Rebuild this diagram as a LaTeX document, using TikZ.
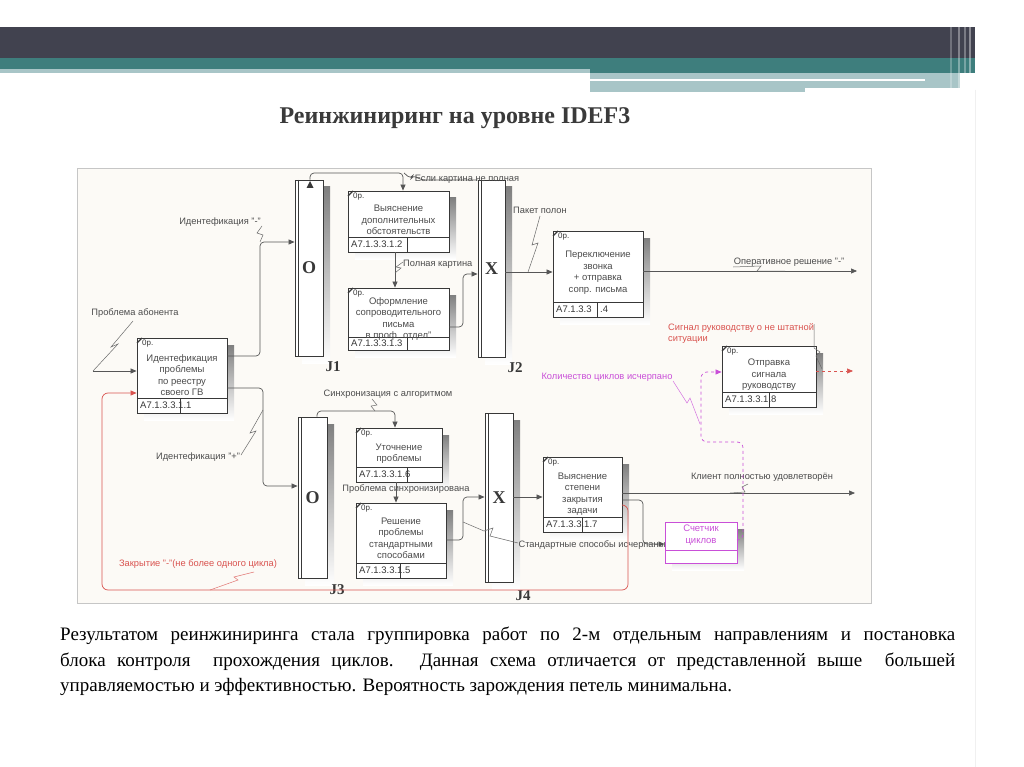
\documentclass[tikz,border=0pt]{standalone}
\usepackage{fontspec}
\setmainfont{Liberation Serif}
\setsansfont{Liberation Sans}
\usetikzlibrary{arrows.meta,fit,calc}
\definecolor{darkbar}{HTML}{41424F}
\definecolor{tealbar}{HTML}{3E7E7D}
\definecolor{lightteal}{HTML}{A8C5C7}
\definecolor{shade}{HTML}{B6B6B6}
\definecolor{ln}{HTML}{383838}
\definecolor{lbl}{HTML}{4C4C4C}
\definecolor{redl}{HTML}{D9534F}
\definecolor{mag}{HTML}{C94FD8}
\definecolor{cream}{HTML}{FCFAF6}
\definecolor{titlec}{HTML}{3A3A3A}
\tikzset{
 boxs/.style={draw=ln, line width=0.9pt, fill=white, inner sep=0pt},
 link/.style={draw=ln!85, line width=0.7pt, rounded corners=4pt},
 conn/.style={link, -{Triangle[length=6pt,width=5pt]}},
 lead/.style={draw=ln!75, line width=0.5pt},
 lab/.style={font=\sffamily\fontsize{9.3}{11}\selectfont, text=lbl, inner sep=0pt},
 btext/.style={font=\sffamily\fontsize{9.5}{11.5}\selectfont, text=lbl, align=center, inner sep=0pt},
 ftext/.style={font=\sffamily\fontsize{9.5}{11}\selectfont, text=ln, inner sep=0pt, anchor=west},
 jlab/.style={font=\bfseries\fontsize{15}{15}\selectfont, text=ln, inner sep=0pt},
 jsym/.style={font=\bfseries\fontsize{18}{18}\selectfont, text=ln, inner sep=0pt},
}
\newcommand\ibox[7]{%
 \fill[shade] ({#2+7},{#3+7}) rectangle ({#4+7},{#5+7});
 \node[boxs, fit={(#2,#3) (#4,#5)}] (#1) {};
 \draw[ln, line width=0.9pt] (#2,#6) -- (#4,#6);
 \draw[ln, line width=0.9pt] (#7,#6) -- (#7,#5);
 \draw[ln, line width=1.2pt] (#2,{#3+5}) -- ({#2+5},#3);
 \node[font=\sffamily\fontsize{8}{8}\selectfont, text=ln, inner sep=0pt, anchor=north west] (#1-op) at ({#2+5},{#3+2}) {0р.};
}
\newcommand\junc[6]{%
 \fill[shade] ({#2+7},{#3+7}) rectangle ({#4+7},{#5+7});
 \node[boxs, fit={(#2,#3) (#4,#5)}] (#1) {};
 \draw[ln, line width=0.9pt] ({#2+3},#3) -- ({#2+3},#5);
 \node[jsym] (#1-s) at (#1.center) {#6};
}
\begin{document}
\begin{tikzpicture}[x=1pt,y=-1pt]
\useasboundingbox (0,0) rectangle (1024,767);
\fill[white] (0,0) rectangle (1024,767);
% header
\fill[darkbar] (0,27) rectangle (975,58);
\fill[tealbar] (0,58) rectangle (975,69);
\fill[lightteal] (0,69) rectangle (590,73);
\fill[tealbar] (590,69) rectangle (975,73);
\fill[lightteal] (590,73) rectangle (805,92);
\fill[lightteal] (805,73) rectangle (960,88);
\fill[white] (590,79) rectangle (925,81);
\foreach \xx/\oo in {950/0.25,958/0.35,964/0.3,969/0.4}
  \fill[white, opacity=\oo] (\xx,27) rectangle (\xx+2,90);
\draw[gray!12, line width=0.8pt] (975,90) -- (975,767);
% title
\node[font=\bfseries\fontsize{24}{26}\selectfont, text=titlec] (title) at (455,118) {Реинжиниринг на уровне IDEF3};
% frame
\fill[cream] (77,168) rectangle (871,603);
\draw[gray!45, line width=0.9pt] (77,168) rectangle (871,603);
% boxes
\ibox{b1}{137}{338}{227}{413}{398}{180}
\ibox{b2}{348}{191}{449}{252}{237}{407}
\ibox{b3}{348}{288}{449}{350}{337}{407}
\ibox{b4}{553}{231}{643}{317}{302}{597}
\ibox{b5}{356}{503}{446}{578}{563}{400}
\ibox{b6}{356}{428}{442}{482}{467}{407}
\ibox{b7}{543}{457}{622}{532}{517}{582}
\ibox{b8}{722}{346}{816}{407}{392}{769}
\node[btext] (t1) at (182,375) {Идентефикация\\проблемы\\по реестру\\своего ГВ};
\node[btext] (t2) at (398.5,220) {Выяснение\\дополнительных\\обстоятельств};
\node[btext] (t3) at (398.5,319) {Оформление\\сопроводительного\\письма\\в проф. отдел"};
\node[btext] (t4) at (598,272.5) {Переключение\\звонка\\+ отправка\\сопр. письма};
\node[btext] (t5) at (401,538.5) {Решение\\проблемы\\стандартными\\способами};
\node[btext] (t6) at (399,453.5) {Уточнение\\проблемы};
\node[btext] (t7) at (582.5,494) {Выяснение\\степени\\закрытия\\задачи};
\node[btext] (t8) at (769,375) {Отправка\\сигнала\\руководству};
\node[ftext] (f1) at (140,405.5) {A7.1.3.3.1.1};
\node[ftext] (f2) at (351,244.5) {A7.1.3.3.1.2};
\node[ftext] (f3) at (351,343.5) {A7.1.3.3.1.3};
\node[ftext] (f4) at (556,309.5) {A7.1.3.3};
\node[ftext] (f4b) at (600,309.5) {.4};
\node[ftext] (f5) at (359,570.5) {A7.1.3.3.1.5};
\node[ftext] (f6) at (359,474.5) {A7.1.3.3.1.6};
\node[ftext] (f7) at (546,524.5) {A7.1.3.3.1.7};
\node[ftext] (f8) at (725,399.5) {A7.1.3.3.1.8};
% counter box
\fill[shade] (672,529) rectangle (744,570);
\node[draw=mag, line width=0.9pt, fill=white, inner sep=0pt, fit={(665,522) (737,563)}] (cnt) {};
\draw[mag, line width=0.9pt] (665,550) -- (737,550);
\node[btext, text=mag] (tc) at (701,535) {Счетчик\\циклов};
% junctions
\junc{j1}{295}{180}{323}{356}{O}
\junc{j2}{478}{180}{505}{357}{X}
\junc{j3}{298}{417}{327}{578}{O}
\junc{j4}{485}{413}{513}{582}{X}
\node[jlab] (j1l) at (333,367) {J1};
\node[jlab] (j2l) at (515,368) {J2};
\node[jlab] (j3l) at (337,590) {J3};
\node[jlab] (j4l) at (523,596) {J4};
% connectors
\coordinate (pa) at (93,371);
\draw[lead] (133,321) -- (111,347) -- (118,344) -- (pa);
\draw[conn] (pa) -- (b1.west |- pa);
\node[lab] (l0) at (135,313) {Проблема абонента};
\draw[conn] (b1.east |- 0,356) -- (260,356) -- (260,242) -- (j1.west |- 0,242);
\node[lab] (l1) at (220,222) {Идентефикация "-"};
\draw[lead] (262,226) -- (257,233) -- (263,235) -- (260,242);
\draw[conn] (b1.east |- 0,388) -- (263,388) -- (263,486) -- (j3.west |- 0,486);
\node[lab] (l2) at (198,457) {Идентефикация "+"};
\draw[lead] (241,455) -- (256,431) -- (250,433) -- (263,410);
\draw[conn] (j1.north -| 310,0) -- (310,173) -- (403,173) -- (b2.north -| 403,0);
\fill[ln] (306.5,188) -- (313.5,188) -- (310,181) -- cycle;
\draw[link] (j2.west |- 0,180) -- (421,180) -- (413,175) -- (411,179) -- (404,173);
\node[lab] (l3) at (467,179) {Если картина не полная};
\draw[conn] (b2.south -| 395,0) -- (b3.north -| 395,0);
\node[lab, anchor=west] (l4) at (403,264) {Полная картина};
\draw[lead] (403,262) -- (396,267) -- (401,268) -- (395,273);
\draw[conn] (b3.east |- 0,327) -- (463,327) -- (463,274) -- (j2.west |- 0,274);
\draw[conn] (j2.east |- 0,272) -- (b4.west |- 0,272);
\node[lab] (l5) at (540,210) {Пакет полон};
\draw[lead] (540,216) -- (532,245) -- (538,243) -- (528,272);
\coordinate (o1) at (857,271);
\draw[conn] (b4.east |- o1) -- (o1);
\node[lab] (l6) at (789,262) {Оперативное решение "-"};
\draw[lead] (733,267) -- (761,266) -- (757,271) -- (785,271);
\draw[conn] (j3.north -| 317,0) -- (317,411) -- (395,411) -- (b6.north -| 395,0);
\node[lab] (l7) at (388,394) {Синхронизация с алгоритмом};
\draw[lead] (372,399) -- (377,405) -- (371,406) -- (375,411);
\draw[conn] (b6.south -| 396,0) -- (b5.north -| 396,0);
\node[lab] (l8) at (406,489) {Проблема синхронизирована};
\draw[conn] (b5.east |- 0,540) -- (463,540) -- (463,497) -- (j4.west |- 0,497);
\draw[conn] (j4.east |- 0,497) -- (b7.west |- 0,497);
\coordinate (o2) at (855,493);
\draw[conn] (b7.east |- o2) -- (o2);
\node[lab] (l9) at (762,477) {Клиент полностью удовлетворён};
\draw[lead] (730,493) -- (745,492) -- (742,487) -- (748,484);
\draw[conn] (b7.east |- 0,500) -- (643,500) -- (643,544) -- (cnt.west |- 0,544);
\node[lab] (l10) at (592,545) {Стандартные способы исчерпаны};
\draw[lead] (463,522) -- (484,531) -- (493,528) -- (490,536) -- (518,543);
\draw[conn, draw=redl, rounded corners=6pt] (b7.east |- 0,505) -- (628,505) -- (628,590) -- (102,590) -- (102,393) -- (b1.west |- 0,393);
\node[lab, text=redl] (l11) at (198,564) {Закрытие "-"(не более одного цикла)};
\draw[lead, draw=redl!80] (254,572) -- (234,577) -- (238,580) -- (210,590);
\draw[conn, draw=mag, dashed, rounded corners=6pt] (cnt.east |- 0,540) -- (743,540) -- (743,442) -- (701,442) -- (701,372) -- (b8.west |- 0,372);
\node[lab, text=mag] (l12) at (607,377) {Количество циклов исчерпано};
\draw[lead, draw=mag!80] (673,381) -- (687,403) -- (690,398) -- (700,424);
\coordinate (o3) at (853,371);
\draw[conn, draw=redl, dashed] (b8.east |- o3) -- (o3);
\node[lab, text=redl, align=left, anchor=north west] (l13) at (668,323) {Сигнал руководству о не штатной\\ситуации};
\draw[lead] (814,324) -- (814,348) -- (820,352) -- (816,356) -- (822,369);
% paragraph
\node[anchor=north west, text width=895pt, align=justify, font=\fontsize{19}{25.5}\selectfont, inner sep=0pt, text=black] (para) at (60,627) {Результатом реинжиниринга стала группировка работ по 2-м отдельным направлениям и постановка\linebreak блока контроля \ прохождения циклов. Данная схема отличается от представленной выше \ большей\linebreak управляемостью и эффективностью. Вероятность зарождения петель минимальна.};
\end{tikzpicture}
\end{document}
